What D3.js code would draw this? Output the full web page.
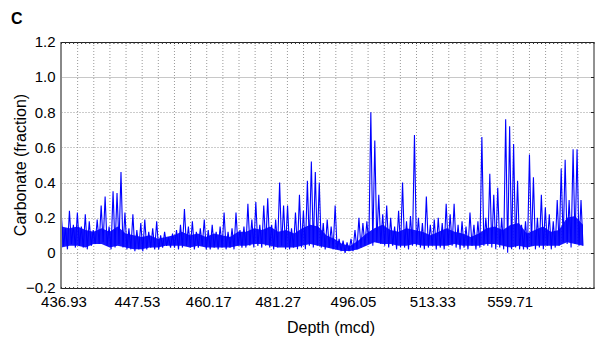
<!DOCTYPE html>
<html lang="en">
<head>
    <meta charset="UTF-8">
    <title>Carbonate</title>
    <script src="https://d3js.org/d3.v7.min.js"></script>
    <style>
        body { margin: 0; background: #fff; }
        text { font-family: "Liberation Sans", Arial, Helvetica, sans-serif; }
    </style>
</head>
<body>
    <div id="chart"></div>
    <script>
        // spikes: upper and lower edge of the carbonate record (fraction)
        const hiVals = [0.20, 0.14, 0.24, 0.16, 0.23, 0.15, 0.22, 0.18, 0.13, 0.19,
            0.27, 0.32, 0.15, 0.35, 0.34, 0.46, 0.23, 0.14, 0.22, 0.13,
            0.17, 0.19, 0.12, 0.14, 0.18, 0.10, 0.12, 0.09, 0.11, 0.13,
            0.16, 0.25, 0.15, 0.18, 0.12, 0.14, 0.19, 0.13, 0.16, 0.12,
            0.15, 0.23, 0.12, 0.14, 0.23, 0.13, 0.15, 0.28, 0.19, 0.29,
            0.16, 0.27, 0.31, 0.16, 0.19, 0.40, 0.27, 0.27, 0.14, 0.23,
            0.33, 0.24, 0.41, 0.52, 0.46, 0.40, 0.17, 0.19, 0.15, 0.27,
            0.08, 0.07, 0.06, 0.08, 0.13, 0.20, 0.17, 0.18, 0.80, 0.64,
            0.33, 0.22, 0.27, 0.20, 0.15, 0.24, 0.40, 0.18, 0.21, 0.67,
            0.20, 0.17, 0.32, 0.16, 0.19, 0.20, 0.17, 0.28, 0.22, 0.28,
            0.16, 0.18, 0.15, 0.23, 0.16, 0.18, 0.66, 0.20, 0.45, 0.33,
            0.37, 0.20, 0.76, 0.72, 0.62, 0.41, 0.16, 0.18, 0.56, 0.43,
            0.20, 0.33, 0.26, 0.22, 0.18, 0.30, 0.48, 0.53, 0.30, 0.59,
            0.59, 0.30];
        const loVals = [0.04, 0.02, 0.05, 0.03, 0.04, 0.03, 0.02, 0.04, 0.05, 0.05,
            0.06, 0.04, 0.02, 0.03, 0.05, 0.03, 0.02, 0.02, 0.01, 0.02,
            0.01, 0.02, 0.03, 0.02, 0.02, 0.03, 0.04, 0.03, 0.03, 0.02,
            0.03, 0.04, 0.03, 0.02, 0.03, 0.04, 0.02, 0.02, 0.03, 0.02,
            0.03, 0.02, 0.03, 0.02, 0.04, 0.03, 0.03, 0.04, 0.03, 0.04,
            0.03, 0.04, 0.03, 0.02, 0.03, 0.04, 0.02, 0.02, 0.03, 0.02,
            0.03, 0.02, 0.04, 0.03, 0.04, 0.03, 0.02, 0.03, 0.02, 0.02,
            0.01, 0.00, 0.01, 0.01, 0.02, 0.03, 0.04, 0.05, 0.04, 0.06,
            0.05, 0.04, 0.03, 0.04, 0.02, 0.03, 0.03, 0.02, 0.04, 0.04,
            0.03, 0.02, 0.03, 0.04, 0.02, 0.03, 0.02, 0.04, 0.04, 0.03,
            0.02, 0.03, 0.02, 0.04, 0.02, 0.03, 0.04, 0.04, 0.03, 0.02,
            0.03, 0.02, 0.00, 0.02, 0.03, 0.02, 0.02, 0.02, 0.04, 0.02,
            0.03, 0.02, 0.04, 0.02, 0.03, 0.04, 0.06, 0.05, 0.03, 0.05,
            0.04, 0.04];

        // the dense core of the record (top and bottom of the solid band), coarser steps
        const bandTop = [0.15, 0.14, 0.15, 0.13, 0.12, 0.14, 0.12, 0.15, 0.11, 0.10,
            0.09, 0.10, 0.08, 0.09, 0.10, 0.12, 0.10, 0.11, 0.09, 0.11,
            0.10, 0.09, 0.12, 0.12, 0.14, 0.13, 0.15, 0.12, 0.13, 0.11,
            0.14, 0.16, 0.15, 0.10, 0.08, 0.05, 0.04, 0.07, 0.11, 0.14,
            0.16, 0.13, 0.12, 0.14, 0.13, 0.12, 0.10, 0.12, 0.14, 0.12,
            0.11, 0.09, 0.11, 0.14, 0.15, 0.13, 0.16, 0.17, 0.11, 0.13,
            0.15, 0.12, 0.13, 0.20, 0.21, 0.16];
        const bandBottom = [0.03, 0.04, 0.04, 0.03, 0.05, 0.05, 0.03, 0.04, 0.03, 0.02,
            0.02, 0.03, 0.03, 0.04, 0.04, 0.04, 0.03, 0.04, 0.03, 0.03,
            0.03, 0.03, 0.04, 0.04, 0.05, 0.05, 0.04, 0.03, 0.03, 0.03,
            0.04, 0.05, 0.04, 0.03, 0.02, 0.01, 0.01, 0.02, 0.04, 0.06,
            0.05, 0.05, 0.04, 0.04, 0.05, 0.04, 0.04, 0.04, 0.04, 0.05,
            0.04, 0.04, 0.04, 0.05, 0.05, 0.04, 0.03, 0.04, 0.03, 0.04,
            0.04, 0.04, 0.04, 0.06, 0.05, 0.04];

        // depth labels shown under the x axis and the sample index they sit at
        const depthLabels = ["436.93", "447.53", "460.17", "481.27", "496.05", "513.33", "559.71"];
        const depthTickIdx = [1, 38, 74, 109, 147, 187, 226];
        const yTicks = [-0.2, 0, 0.2, 0.4, 0.6, 0.8, 1.0, 1.2];

        // zig-zag between the upper and lower edge
        const samples = [];
        hiVals.forEach((v, i) => {
            samples.push({ idx: 2 * i, val: v });
            samples.push({ idx: 2 * i + 1, val: loVals[i] });
        });
        const band = bandTop.map((t, i) => ({ idx: i * (samples.length - 1) / (bandTop.length - 1), top: t, bot: bandBottom[i] }));

        const W = 610, H = 342;
        const pLeft = 61.5, pRight = 594, pTop = 42, pBottom = 288;
        const dataEnd = 583;

        const svg = d3.select("#chart").append("svg")
            .attr("width", W)
            .attr("height", H);

        const x = d3.scaleLinear()
            .domain([0, samples.length - 1])
            .range([pLeft, dataEnd]);
        const y = d3.scaleLinear()
            .domain([-0.2, 1.2])
            .range([pBottom, pTop]);

        // vertical grid: 33 equal intervals across the frame
        const nGrid = 33;
        const gx = d3.range(1, nGrid).map(k => pLeft + k * (pRight - pLeft) / nGrid);
        svg.append("g").selectAll("line")
            .data(gx)
            .join("line")
            .attr("x1", d => d).attr("x2", d => d)
            .attr("y1", pTop).attr("y2", pBottom)
            .attr("stroke", "#999")
            .attr("stroke-width", 1)
            .attr("stroke-dasharray", "1,2");

        // horizontal grid
        svg.append("g").selectAll("line")
            .data(yTicks.slice(1, -1))
            .join("line")
            .attr("x1", pLeft).attr("x2", pRight)
            .attr("y1", d => Math.round(y(d)) + 0.5).attr("y2", d => Math.round(y(d)) + 0.5)
            .attr("stroke", d => d === 1.0 ? "#c8c8c8" : "#999")
            .attr("stroke-width", 1)
            .attr("stroke-dasharray", d => d === 1.0 ? null : "1,2");

        // the record: solid core plus the spiky trace
        const area = d3.area()
            .x(d => x(d.idx))
            .y0(d => y(d.bot))
            .y1(d => y(d.top));

        svg.append("path")
            .datum(band)
            .attr("fill", "#0000ff")
            .attr("fill-opacity", 0.9)
            .attr("d", area);

        const line = d3.line()
            .x(d => x(d.idx))
            .y(d => y(d.val));

        svg.append("path")
            .datum(samples)
            .attr("fill", "none")
            .attr("stroke", "#0000ff")
            .attr("stroke-width", 1.1)
            .attr("d", line);

        // frame
        svg.append("line")
            .attr("x1", pLeft).attr("x2", pRight).attr("y1", pTop + 0.5).attr("y2", pTop + 0.5)
            .attr("stroke", "#222");
        svg.append("line")
            .attr("x1", pLeft).attr("x2", pRight).attr("y1", pBottom + 0.5).attr("y2", pBottom + 0.5)
            .attr("stroke", "#222");
        svg.append("line")
            .attr("x1", pRight).attr("x2", pRight).attr("y1", pTop).attr("y2", pBottom + 1)
            .attr("stroke", "#222");
        svg.append("line")
            .attr("x1", pLeft - 0.5).attr("x2", pLeft - 0.5).attr("y1", pTop).attr("y2", pBottom + 1)
            .attr("stroke", "#888")
            .attr("stroke-width", 2);

        // small minor ticks along top and bottom
        const minor = d3.range(0, nGrid * 4 + 1).map(k => pLeft + k * (pRight - pLeft) / (nGrid * 4));
        svg.append("g").selectAll("line")
            .data(minor)
            .join("line")
            .attr("x1", d => d).attr("x2", d => d)
            .attr("y1", pTop).attr("y2", pTop + 2)
            .attr("stroke", "#333");
        svg.append("g").selectAll("line")
            .data(minor)
            .join("line")
            .attr("x1", d => d).attr("x2", d => d)
            .attr("y1", pBottom - 1).attr("y2", pBottom + 1)
            .attr("stroke", "#333");

        // right side ticks
        svg.append("g").selectAll("line")
            .data(yTicks)
            .join("line")
            .attr("x1", pRight - 3).attr("x2", pRight)
            .attr("y1", d => Math.round(y(d)) + 0.5).attr("y2", d => Math.round(y(d)) + 0.5)
            .attr("stroke", "#222");

        // axes
        const yAxis = svg.append("g")
            .attr("transform", "translate(" + pLeft + ",0)")
            .call(d3.axisLeft(y)
                .tickValues(yTicks)
                .tickSize(0)
                .tickPadding(6)
                .tickFormat(d => d === 0 ? "0" : d3.format(".1f")(d)));
        yAxis.select(".domain").remove();
        yAxis.selectAll("text")
            .attr("font-size", 15)
            .attr("fill", "#000")
            .style("font-family", "'Liberation Sans', Arial, sans-serif");

        const xAxis = svg.append("g")
            .attr("transform", "translate(0," + pBottom + ")")
            .call(d3.axisBottom(x)
                .tickValues(depthTickIdx)
                .tickSize(0)
                .tickPadding(8)
                .tickFormat((d, i) => depthLabels[i]));
        xAxis.select(".domain").remove();
        xAxis.selectAll("text")
            .attr("font-size", 15)
            .attr("fill", "#000")
            .style("font-family", "'Liberation Sans', Arial, sans-serif");

        // titles
        svg.append("text")
            .attr("x", 331).attr("y", 333)
            .attr("text-anchor", "middle")
            .attr("font-size", 16)
            .text("Depth (mcd)");

        svg.append("text")
            .attr("transform", "translate(26,165) rotate(-90)")
            .attr("text-anchor", "middle")
            .attr("font-size", 16)
            .text("Carbonate (fraction)");

        svg.append("text")
            .attr("x", 11).attr("y", 24)
            .attr("font-size", 16)
            .attr("font-weight", "bold")
            .text("C");
    </script>
</body>
</html>
